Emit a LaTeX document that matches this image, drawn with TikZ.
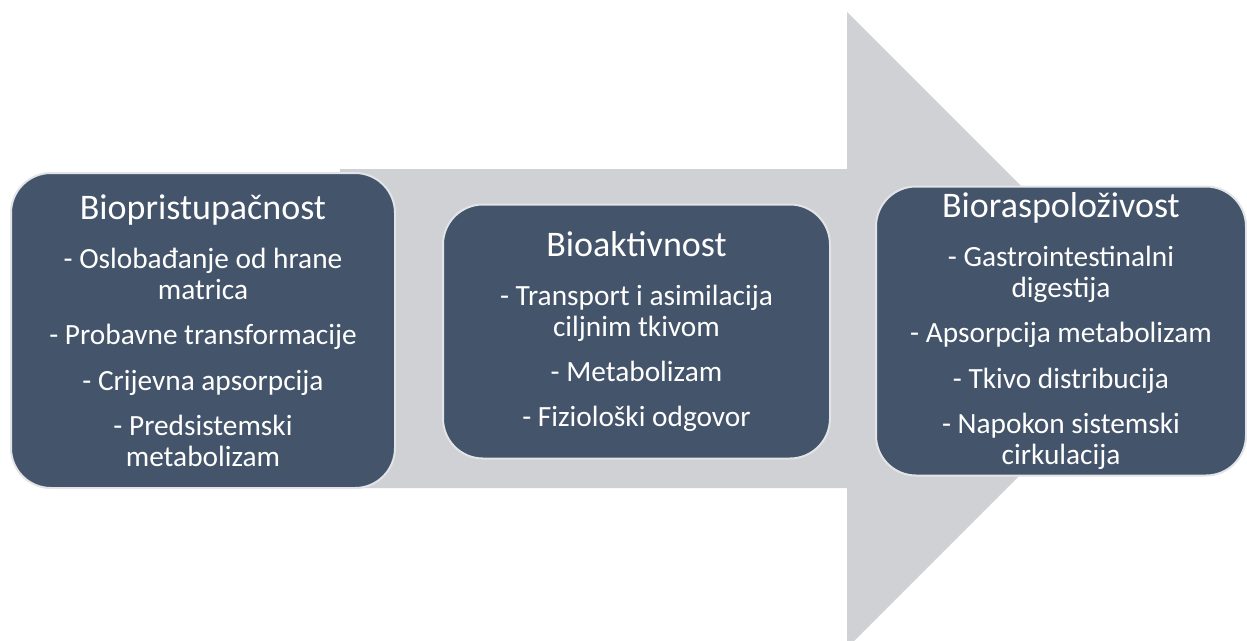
\documentclass[tikz,border=0pt]{standalone}
\usepackage{fontspec}
\setmainfont{Carlito}
\usetikzlibrary{positioning}

\definecolor{slate}{RGB}{68,84,106}
\definecolor{arrowgray}{RGB}{207,209,213}
\definecolor{rim}{RGB}{226,228,231}

\begin{document}
\begin{tikzpicture}[
  x=0.75pt, y=-0.75pt,
  stage/.style={draw=rim, line width=1.5pt, fill=slate, rounded corners=30pt,
                text=white, align=center, inner sep=0pt,
                font=\fontsize{22}{23}\selectfont},
]
\useasboundingbox (0,0) rectangle (1247,640);
\clip (0,0) rectangle (1247,640);

% Big arrow behind the stages
\fill[arrowgray] (340,169) -- (847,169) -- (847,12) -- (1165,330)
  -- (847,648) -- (847,488) -- (340,488) -- cycle;

% Stages
\node[stage, minimum width=384pt*0.75, minimum height=315pt*0.75] (BP) at (203,330.5)
  {{\fontsize{27}{30}\selectfont Biopristupačnost}\\[14pt]
   - Oslobađanje od hrane\\ matrica\\[11pt]
   - Probavne transformacije\\[11pt]
   - Crijevna apsorpcija\\[11pt]
   - Predsistemski\\ metabolizam};
\node[stage, minimum width=387pt*0.75, minimum height=254pt*0.75] (BA) at (636.5,331.5)
  {{\fontsize{27}{30}\selectfont Bioaktivnost}\\[14pt]
   - Transport i asimilacija\\ ciljnim tkivom\\[11pt]
   - Metabolizam\\[11pt]
   - Fiziološki odgovor};
\node[stage, minimum width=370pt*0.75, minimum height=289pt*0.75] (BR) at (1061,331)
  {{\fontsize{27}{30}\selectfont Bioraspoloživost}\\[14pt]
   - Gastrointestinalni\\ digestija\\[11pt]
   - Apsorpcija metabolizam\\[11pt]
   - Tkivo distribucija\\[11pt]
   - Napokon sistemski\\ cirkulacija};

\end{tikzpicture}
\end{document}
